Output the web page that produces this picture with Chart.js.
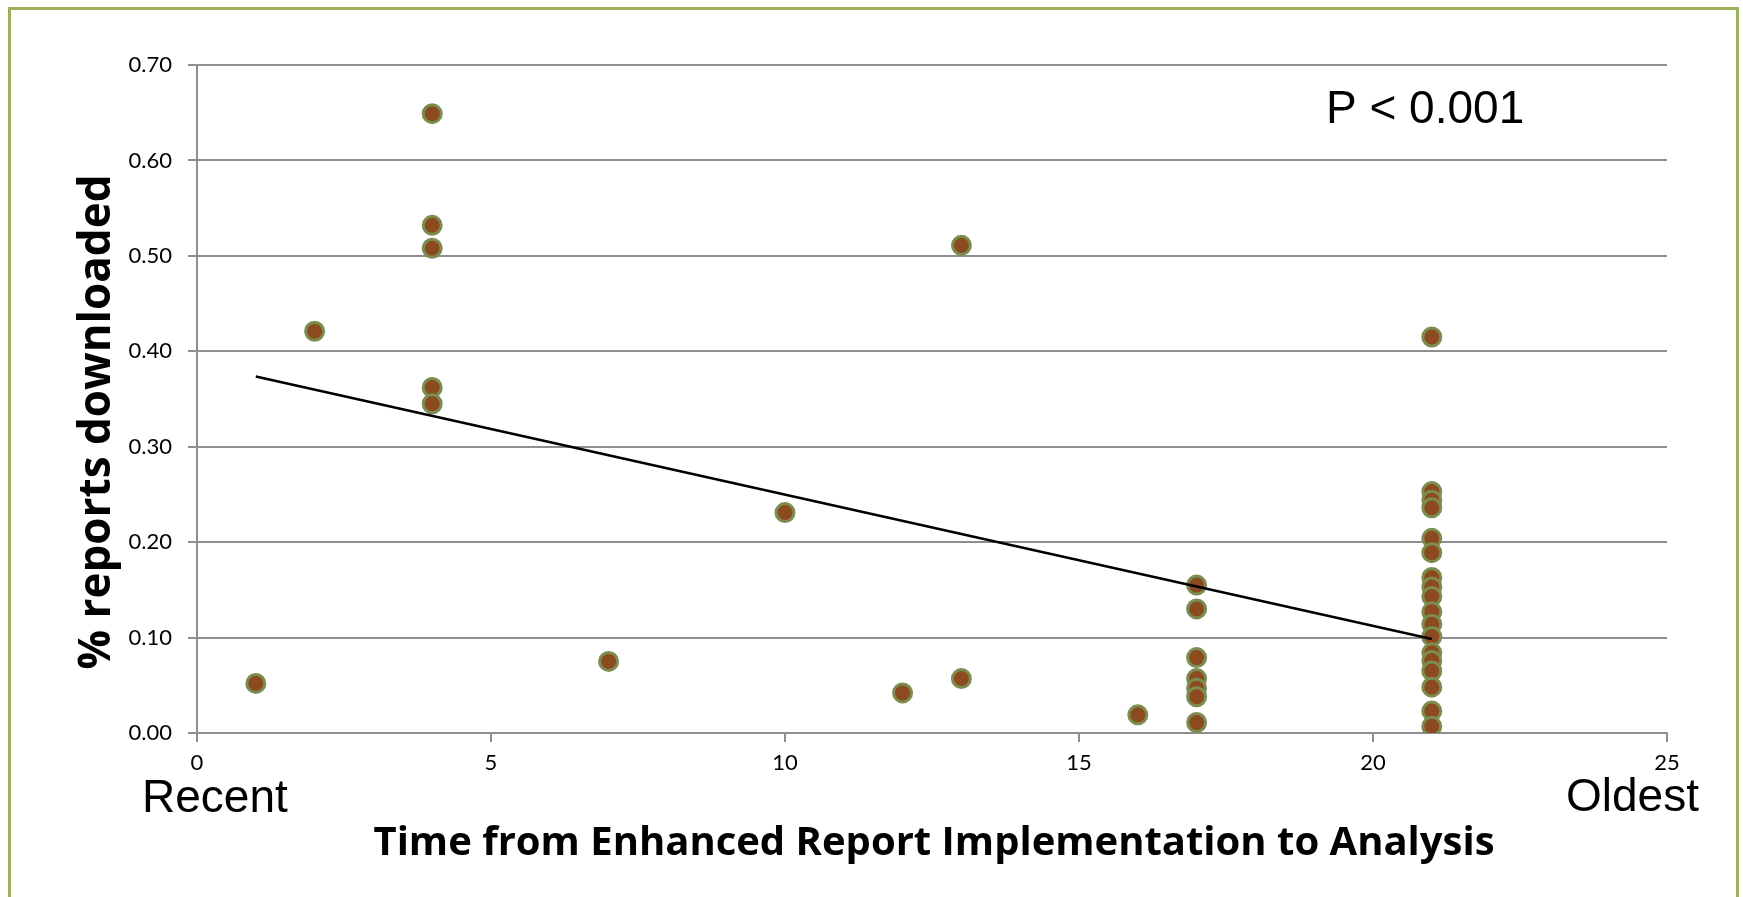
<!DOCTYPE html>
<html><head><meta charset="utf-8">
<script src="https://cdn.jsdelivr.net/npm/chart.js@4.4.1/dist/chart.umd.min.js"></script>
<style>html,body{margin:0;padding:0;background:#fff;overflow:hidden}#wrap{width:1743px;height:897px;position:relative}</style>
</head><body><div id="wrap"><canvas id="c" width="1743" height="897"></canvas></div>
<script>
// Months from enhanced report implementation to analysis (x) and share of reports downloaded (y)
const xValues = [1, 2, 4, 4, 4, 4, 4, 7, 10, 12, 13, 13, 16,
  17, 17, 17, 17, 17, 17, 17,
  21, 21, 21, 21, 21, 21, 21, 21, 21, 21, 21, 21, 21, 21, 21, 21, 21, 21];
const yValues = [0.052, 0.421, 0.649, 0.532, 0.508, 0.362, 0.345, 0.075, 0.231, 0.042, 0.511, 0.057, 0.019,
  0.155, 0.130, 0.079, 0.057, 0.047, 0.038, 0.011,
  0.415, 0.253, 0.244, 0.236, 0.204, 0.189, 0.163, 0.153, 0.143, 0.127, 0.114, 0.101, 0.084, 0.076, 0.065, 0.048, 0.023, 0.007];
const trendX = [1, 21];
const trendY = [0.3735, 0.0985];
const xTickValues = [0, 5, 10, 15, 20, 25];
const yTickValues = [0, 0.1, 0.2, 0.3, 0.4, 0.5, 0.6, 0.7];
const xTitle = 'Time from Enhanced Report Implementation to Analysis';
const yTitle = '% reports downloaded';
const pLabel = 'P < 0.001';
const leftLabel = 'Recent';
const rightLabel = 'Oldest';

const points = xValues.map((x, i) => ({x: x, y: yValues[i]}));
const trend = trendX.map((x, i) => ({x: x, y: trendY[i]}));
const GRAY = '#8e8e8e';

const decor = {
  id: 'decor',
  beforeDraw(chart) {
    const ctx = chart.ctx;
    ctx.save();
    ctx.fillStyle = '#fff';
    ctx.fillRect(0, 0, chart.width, chart.height);
    ctx.strokeStyle = '#9bb05b';
    ctx.lineWidth = 3;
    ctx.strokeRect(9.5, 8.5, 1728, 1000);
    ctx.restore();
  },
  afterDraw(chart) {
    const ctx = chart.ctx;
    ctx.save();
    ctx.fillStyle = '#000';
    ctx.textBaseline = 'alphabetic';
    ctx.textAlign = 'left';
    ctx.font = '46px "Liberation Sans", Arial, sans-serif';
    ctx.fillText(pLabel, 1326, 123);
    ctx.fillText(leftLabel, 142, 812);
    ctx.fillText(rightLabel, 1566, 811);
    ctx.font = 'bold 40px "Open Sans", sans-serif';
    ctx.textAlign = 'center';
    ctx.fillText(xTitle, 934, 855);
    ctx.translate(97, 422);
    ctx.rotate(-Math.PI / 2);
    ctx.font = 'bold 44px "Open Sans", sans-serif';
    ctx.textBaseline = 'middle';
    ctx.fillText(yTitle, 0, 0);
    ctx.restore();
  }
};

new Chart(document.getElementById('c'), {
  type: 'scatter',
  data: {
    datasets: [
      {
        data: trend, showLine: true, borderColor: '#000', borderWidth: 2.5,
        pointRadius: 0, pointHoverRadius: 0, fill: false
      },
      {
        data: points, pointRadius: 9, pointBorderWidth: 3,
        backgroundColor: '#8c4b1e', borderColor: '#7b8d50', showLine: false
      }
    ]
  },
  options: {
    responsive: false,
    animation: false,
    devicePixelRatio: 1,
    layout: {padding: {top: 65, right: 76, bottom: 0, left: 0}},
    plugins: {legend: {display: false}, tooltip: {enabled: false}},
    scales: {
      x: {
        type: 'linear', min: 0, max: 25,
        afterBuildTicks(s) { s.ticks = xTickValues.map(v => ({value: v})); },
        afterFit(s) { s.height = 164; },
        grid: {drawOnChartArea: false, drawTicks: true, tickLength: 9, color: GRAY, lineWidth: 2},
        border: {display: true, color: GRAY, width: 2},
        ticks: {color: '#000', padding: 8, font: {family: 'Lato', size: 22}, maxRotation: 0,
          callback: v => String(v)}
      },
      y: {
        type: 'linear', min: 0, max: 0.7,
        afterBuildTicks(s) { s.ticks = yTickValues.map(v => ({value: v})); },
        afterFit(s) { s.width = 197; },
        grid: {drawTicks: true, tickLength: 9, color: GRAY, lineWidth: 2},
        border: {display: true, color: GRAY, width: 2},
        ticks: {color: '#000', padding: 16, font: {family: 'Lato', size: 22},
          callback: v => Number(v).toFixed(2)}
      }
    }
  },
  plugins: [decor]
});
</script></body></html>
